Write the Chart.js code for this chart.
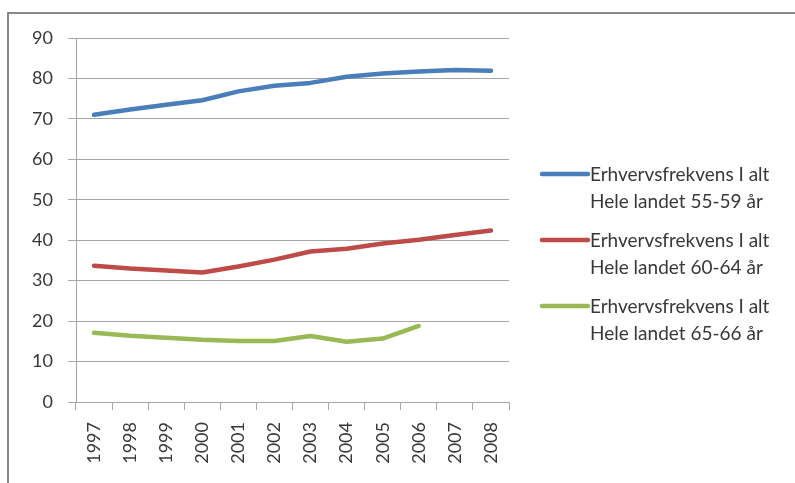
<!DOCTYPE html>
<html lang="da">
<head>
    <meta charset="UTF-8">
    <title>Erhvervsfrekvens</title>
    <style>
        body {
            margin: 0;
            background-color: #fff;
        }

        #wrap {
            width: 795px;
            height: 483px;
        }
    </style>
</head>
<body>
    <div id="wrap">
        <canvas id="chart" width="795" height="483"></canvas>
    </div>

    <script src="https://cdn.jsdelivr.net/npm/chart.js"></script>
    <script>
        const years = ['1997', '1998', '1999', '2000', '2001', '2002', '2003', '2004', '2005', '2006', '2007', '2008'];
        const age5559 = [71.0, 72.3, 73.5, 74.6, 76.8, 78.2, 78.9, 80.4, 81.2, 81.7, 82.1, 81.9];
        const age6064 = [33.7, 33.0, 32.5, 32.0, 33.5, 35.2, 37.2, 37.9, 39.2, 40.1, 41.3, 42.4];
        const age6566 = [17.1, 16.4, 15.9, 15.4, 15.1, 15.1, 16.3, 14.9, 15.7, 18.8, null, null];
        const seriesLabels = [
            ['Erhvervsfrekvens I alt', 'Hele landet 55-59 år'],
            ['Erhvervsfrekvens I alt', 'Hele landet 60-64 år'],
            ['Erhvervsfrekvens I alt', 'Hele landet 65-66 år']
        ];
        const seriesColors = ['#4a7ebb', '#be4b48', '#98b954'];

        const fontFamily = 'Lato, "Open Sans", sans-serif';
        const textColor = '#383838';

        // frame + legend, drawn by hand so the two-line labels sit like the original
        const sideLegend = {
            id: 'sideLegend',
            beforeDraw(chart) {
                const ctx = chart.ctx;
                ctx.save();
                ctx.strokeStyle = '#888';
                ctx.lineWidth = 2;
                ctx.beginPath();
                ctx.moveTo(8, 483);
                ctx.lineTo(8, 13);
                ctx.lineTo(795, 13);
                ctx.stroke();
                ctx.restore();
            },
            afterDraw(chart) {
                const ctx = chart.ctx;
                ctx.save();
                ctx.font = '19px ' + fontFamily;
                ctx.fillStyle = textColor;
                ctx.textBaseline = 'middle';
                chart.data.datasets.forEach((ds, i) => {
                    const y = 174 + i * 66;
                    ctx.strokeStyle = ds.borderColor;
                    ctx.lineWidth = 4.5;
                    ctx.lineCap = 'round';
                    ctx.beginPath();
                    ctx.moveTo(542, y);
                    ctx.lineTo(588, y);
                    ctx.stroke();
                    seriesLabels[i].forEach((line, j) => {
                        ctx.fillText(line, 590, y + 1 + j * 27);
                    });
                });
                ctx.restore();
            }
        };

        const datasets = [age5559, age6064, age6566].map((values, i) => ({
            label: seriesLabels[i].join(' '),
            data: values,
            borderColor: seriesColors[i],
            backgroundColor: seriesColors[i],
            borderWidth: 4.5,
            borderCapStyle: 'round',
            borderJoinStyle: 'round',
            pointRadius: 0,
            tension: 0,
            spanGaps: false
        }));

        new Chart(document.getElementById('chart'), {
            type: 'line',
            data: {
                labels: years,
                datasets: datasets
            },
            options: {
                responsive: false,
                animation: false,
                layout: {
                    padding: { top: 38, right: 286, left: 0, bottom: 0 }
                },
                plugins: {
                    legend: { display: false },
                    tooltip: { enabled: false }
                },
                scales: {
                    x: {
                        offset: true,
                        afterFit(scale) { scale.height = 81; },
                        grid: {
                            offset: true,
                            drawOnChartArea: false,
                            drawTicks: true,
                            tickLength: 8,
                            color: '#a6a6a6'
                        },
                        border: { color: '#a6a6a6' },
                        ticks: {
                            minRotation: 90,
                            maxRotation: 90,
                            padding: 12,
                            color: textColor,
                            font: { family: fontFamily, size: 18 }
                        }
                    },
                    y: {
                        min: 0,
                        max: 90,
                        afterFit(scale) { scale.width = 76; },
                        grid: {
                            color: '#a6a6a6',
                            tickLength: 8
                        },
                        border: { color: '#a6a6a6' },
                        ticks: {
                            stepSize: 10,
                            padding: 15,
                            color: textColor,
                            font: { family: fontFamily, size: 18 }
                        }
                    }
                }
            },
            plugins: [sideLegend]
        });
    </script>
</body>
</html>
